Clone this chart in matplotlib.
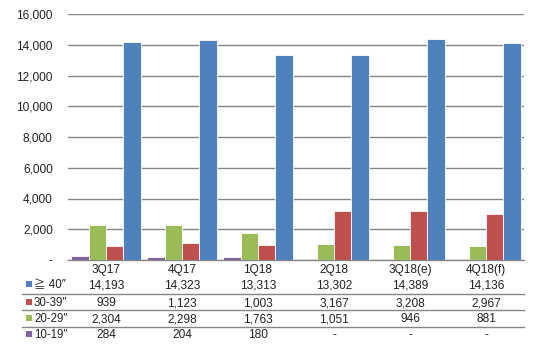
import matplotlib
matplotlib.use("Agg")
import matplotlib.pyplot as plt
import matplotlib.transforms as mtransforms
import numpy as np

categories = ["3Q17", "4Q17", "1Q18", "2Q18", "3Q18(e)", "4Q18(f)"]
size_10_19 = [284, 204, 180, None, None, None]
size_20_29 = [2304, 2298, 1763, 1051, 946, 881]
size_30_39 = [939, 1123, 1003, 3167, 3208, 2967]
size_40_up = [14193, 14323, 13313, 13302, 14389, 14136]

series_names = ["10-19\u2033", "20-29\u2033", "30-39\u2033", "\u2267 40\u2033"]
series_values = [size_10_19, size_20_29, size_30_39, size_40_up]
colors = ["#8064A2", "#9BBB59", "#C0504D", "#4F81BD"]
yticks = [0, 2000, 4000, 6000, 8000, 10000, 12000, 14000, 16000]

W, H = 539, 350
fig = plt.figure(figsize=(W / 100, H / 100), dpi=100)
fam = ["Liberation Sans", "Noto Sans CJK KR", "DejaVu Sans"]
plt.rcParams["font.family"] = fam
fs = 8.6

ax = fig.add_axes([68 / W, 1 - 260 / H, (524 - 68) / W, (260 - 14) / H])
n = len(categories)
x = np.arange(n)
bw = 0.23
for i, (vals, c) in enumerate(zip(series_values, colors)):
    v = np.array([np.nan if a is None else a for a in vals], dtype=float)
    ax.bar(x + (i - 1.5) * bw, v, width=bw, color=c, edgecolor="white", linewidth=0.6, zorder=3)

ax.set_xlim(-0.5, n - 0.5)
ax.set_ylim(0, 16000)
ax.set_yticks(yticks)
ax.set_yticklabels(["-"] + [f"{t:,}" for t in yticks[1:]], fontsize=fs, color="#222222")
ax.tick_params(axis="y", length=0, pad=11)
ax.set_xticks([])
ax.grid(axis="y", color="#868686", linewidth=1, zorder=0)
for s in ["left", "right", "top"]:
    ax.spines[s].set_visible(False)
ax.spines["bottom"].set_color("#868686")
ax.spines["bottom"].set_linewidth(1)

# data table
trans = mtransforms.blended_transform_factory(ax.transData, fig.transFigure)
def fy(py):
    return 1 - py / H

for i, cat in enumerate(categories):
    ax.text(i, fy(268), cat, transform=trans, ha="center", va="center_baseline", fontsize=fs, color="#222222")

row_order = [3, 2, 1, 0]
row_y = [284, 302, 318, 334]
for r, py in zip(row_order, row_y):
    vals = series_values[r]
    for i, v in enumerate(vals):
        s = "-" if v is None else f"{v:,}"
        ax.text(i, fy(py), s, transform=trans, ha="center", va="center_baseline", fontsize=fs, color="#222222")
    fig.patches.append(plt.Rectangle((26 / W, fy(py + 3)), 6 / W, 6 / H, transform=fig.transFigure,
                                     facecolor=colors[r], edgecolor="none"))
    fig.text(34 / W, fy(py), series_names[r], ha="left", va="center_baseline", fontsize=fs - 0.3, color="#222222")

for py in [293.5, 310, 326.5]:
    fig.add_artist(plt.Line2D([22 / W, 524 / W], [fy(py), fy(py)], transform=fig.transFigure,
                              color="#868686", linewidth=1))

fig.savefig("out.png", dpi=100)
